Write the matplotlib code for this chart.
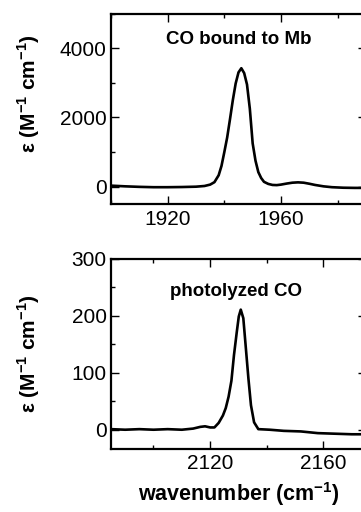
import matplotlib
matplotlib.use("Agg")
import matplotlib.pyplot as plt
from matplotlib.ticker import MultipleLocator

plt.rcParams["font.family"] = ["Liberation Sans", "DejaVu Sans"]
plt.rcParams["mathtext.fontset"] = "custom"
plt.rcParams["mathtext.rm"] = "Liberation Sans"
plt.rcParams["mathtext.bf"] = "Liberation Sans:bold"

# CO bound to Mb (top panel)
wn_bound = [1900, 1905, 1910, 1915, 1920, 1925, 1930, 1933, 1935, 1936.5, 1938, 1939,
            1940, 1941, 1942, 1943, 1944, 1945, 1946, 1947, 1948, 1949, 1950, 1951,
            1952, 1953, 1954, 1955.5, 1957, 1958.5, 1960, 1962, 1964, 1966, 1968,
            1970, 1972, 1975, 1978, 1982, 1986, 1990]
eps_bound = [30, 10, -5, -15, -15, -10, 0, 20, 60, 130, 330, 600,
             1000, 1420, 1950, 2500, 2980, 3300, 3420, 3280, 2950, 2250, 1250, 750,
             420, 250, 140, 80, 50, 45, 60, 90, 115, 125, 115,
             85, 50, 10, -15, -30, -35, -35]

# photolyzed CO (bottom panel)
wn_photo = [2085, 2090, 2095, 2100, 2105, 2110, 2114, 2116.5, 2118.2, 2120, 2121.5,
            2123, 2124.5, 2125.5, 2126.5, 2127.5, 2128.4, 2129.4, 2130.1, 2130.8,
            2131.7, 2132.5, 2133.5, 2134.4, 2135.5, 2137, 2141, 2146, 2152, 2158,
            2164, 2170, 2175]
eps_photo = [1, 0, 1, 0, 1, 0, 2, 5, 6, 4, 4,
             12, 25, 38, 58, 86, 131, 172, 199, 211,
             196, 149, 90, 43, 13, 1, 0, -2, -3, -6,
             -7, -8, -8]

W, H = 361, 512
fig = plt.figure(figsize=(W / 100, H / 100), dpi=100)
ax1 = fig.add_axes([111 / W, (H - 204) / H, 255 / W, 190.5 / H])
ax2 = fig.add_axes([111 / W, (H - 448.5) / H, 255 / W, 189.5 / H])

ylab = r"ε (M$^{\mathbf{-1}}$ cm$^{\mathbf{-1}}$)"


def style(ax, xmaj, ymaj):
    ax.xaxis.set_major_locator(MultipleLocator(xmaj))
    ax.xaxis.set_minor_locator(MultipleLocator(xmaj / 2))
    ax.yaxis.set_major_locator(MultipleLocator(ymaj))
    ax.yaxis.set_minor_locator(MultipleLocator(ymaj / 2))
    ax.tick_params(which="both", direction="in", top=True, right=True, width=1.0,
                   labelsize=15)
    ax.tick_params(axis="x", pad=4)
    ax.tick_params(axis="y", pad=3)
    ax.tick_params(which="major", length=5.5)
    ax.tick_params(which="minor", length=3)
    for sp in ax.spines.values():
        sp.set_linewidth(1.6)


ax1.plot(wn_bound, eps_bound, color="black", lw=1.9)
ax1.set_xlim(1900, 1990)
ax1.set_ylim(-500, 5000)
style(ax1, 40, 2000)
ax1.text(0.5, 0.866, "CO bound to Mb", transform=ax1.transAxes, ha="center",
         va="center", fontsize=13.5, fontweight="bold")
ax1.set_ylabel(ylab, fontsize=15, fontweight="bold")
ax1.yaxis.set_label_coords(-0.27, 0.58)

ax2.plot(wn_photo, eps_photo, color="black", lw=1.9)
ax2.set_xlim(2085, 2175)
ax2.set_ylim(-33, 300)
style(ax2, 40, 100)
ax2.text(0.49, 0.827, "photolyzed CO", transform=ax2.transAxes, ha="center",
         va="center", fontsize=13.5, fontweight="bold")
ax2.set_ylabel(ylab, fontsize=15, fontweight="bold")
ax2.yaxis.set_label_coords(-0.27, 0.5)
ax2.set_xlabel(r"wavenumber (cm$^{\mathbf{-1}}$)", fontsize=15.5, fontweight="bold",
               labelpad=5)

fig.savefig("out.png", dpi=100)
